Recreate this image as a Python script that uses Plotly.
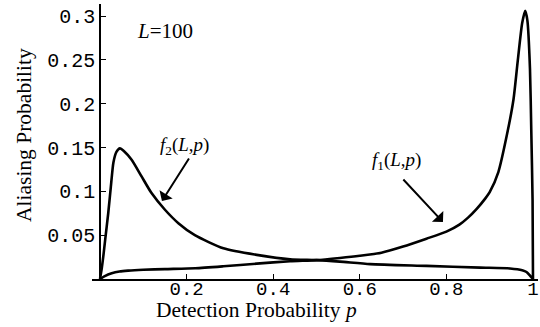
import plotly.graph_objects as go

# f1(L,p): low on the left, sharp peak near p=1
p_f1 = [0.0, 0.01, 0.027, 0.045, 0.065, 0.1, 0.15, 0.22, 0.285, 0.362, 0.439, 0.5,
        0.554, 0.6, 0.65, 0.7, 0.754, 0.8, 0.83, 0.85, 0.87, 0.89, 0.9, 0.92, 0.94,
        0.955, 0.965, 0.975, 0.982, 0.987, 0.993, 0.996, 0.999, 1.0]
v_f1 = [0.0, 0.003, 0.0065, 0.0085, 0.0095, 0.0105, 0.0113, 0.0123, 0.0145, 0.0175,
        0.0203, 0.0215, 0.024, 0.0265, 0.030, 0.037, 0.046, 0.054, 0.062, 0.070,
        0.080, 0.092, 0.099, 0.122, 0.165, 0.205, 0.25, 0.292, 0.306, 0.295, 0.24,
        0.17, 0.09, 0.0]

# f2(L,p): peak near p=0, low on the right
p_f2 = [0.0, 0.004, 0.0077, 0.012, 0.019, 0.025, 0.031, 0.038, 0.046, 0.055, 0.073,
        0.096, 0.119, 0.15, 0.181, 0.219, 0.285, 0.362, 0.439, 0.5, 0.554, 0.624,
        0.754, 0.878, 0.947, 0.975, 0.985, 0.993, 1.0]
v_f2 = [0.0, 0.012, 0.026, 0.045, 0.075, 0.105, 0.133, 0.145, 0.149, 0.146, 0.136,
        0.117, 0.098, 0.079, 0.0637, 0.050, 0.035, 0.0275, 0.0225, 0.0215, 0.0198,
        0.017, 0.015, 0.013, 0.012, 0.010, 0.008, 0.004, 0.0]

x_ticks = [0.2, 0.4, 0.6, 0.8, 1.0]
x_tick_labels = ["0.2", "0.4", "0.6", "0.8", "1"]
y_ticks = [0.05, 0.1, 0.15, 0.2, 0.25, 0.3]
y_tick_labels = ["0.05", "0.1", "0.15", "0.2", "0.25", "0.3"]

fig = go.Figure()
line_style = dict(color="black", width=2.6, shape="spline", smoothing=0.6)
fig.add_trace(go.Scatter(x=p_f1, y=v_f1, mode="lines", line=line_style,
                         showlegend=False, hoverinfo="skip"))
fig.add_trace(go.Scatter(x=p_f2, y=v_f2, mode="lines", line=line_style,
                         showlegend=False, hoverinfo="skip"))

mono = "Liberation Mono, Courier New, monospace"
serif = "Liberation Serif, Times New Roman, serif"

x0 = -8 / 433
fig.update_layout(
    width=540, height=327,
    margin=dict(l=92, r=2, t=4, b=48),
    paper_bgcolor="white", plot_bgcolor="white",
    xaxis=dict(range=[x0, 1 + 5 / 433], domain=[0, 1], showgrid=False, zeroline=False,
               showline=True, linecolor="black", linewidth=1.5,
               ticks="inside", ticklen=5, tickwidth=1.3, tickcolor="black",
               ticklabelstandoff=-9,
               tickvals=x_ticks, ticktext=x_tick_labels,
               tickfont=dict(family=mono, size=19, color="black")),
    yaxis=dict(range=[0, 0.3137], showgrid=False, zeroline=False,
               showline=True, linecolor="black", linewidth=1.5,
               anchor="free", position=8 / 446,
               ticks="inside", ticklen=5, tickwidth=1.3, tickcolor="black",
               tickvals=y_ticks, ticktext=y_tick_labels,
               tickfont=dict(family=mono, size=20, color="black")),
)

fig.add_annotation(xref="paper", yref="paper", x=(24 - 92) / 446, y=(279 - 135) / 275,
                   text="Aliasing Probability", textangle=-90, showarrow=False,
                   xanchor="center", yanchor="middle",
                   font=dict(family=serif, size=21.5, color="black"))
fig.add_annotation(xref="paper", yref="paper", x=(256 - 92) / 446, y=(279 - 310) / 275,
                   text="Detection Probability <i>p</i>", showarrow=False,
                   xanchor="center", yanchor="middle",
                   font=dict(family=serif, size=21.5, color="black"))
fig.add_annotation(x=0.149, y=0.283, text="<i>L</i>=100", showarrow=False,
                   font=dict(family=serif, size=21, color="black"))
fig.add_annotation(x=0.194, y=0.152, text="<i>f</i><sub>2</sub>(<i>L</i>,<i>p</i>)",
                   showarrow=False, font=dict(family=serif, size=19, color="black"))
fig.add_annotation(x=0.684, y=0.135, text="<i>f</i><sub>1</sub>(<i>L</i>,<i>p</i>)",
                   showarrow=False, font=dict(family=serif, size=19, color="black"))
fig.add_annotation(x=0.143, y=0.089, text="", showarrow=True, ax=28, ay=-44,
                   arrowhead=1, arrowsize=1.3, arrowwidth=2, arrowcolor="black")
fig.add_annotation(x=0.792, y=0.065, text="", showarrow=True, ax=-41, ay=-44,
                   arrowhead=1, arrowsize=1.3, arrowwidth=2, arrowcolor="black")

fig.write_html("out.html", config={"displayModeBar": False},
               post_script="document.body.style.margin='0';")
